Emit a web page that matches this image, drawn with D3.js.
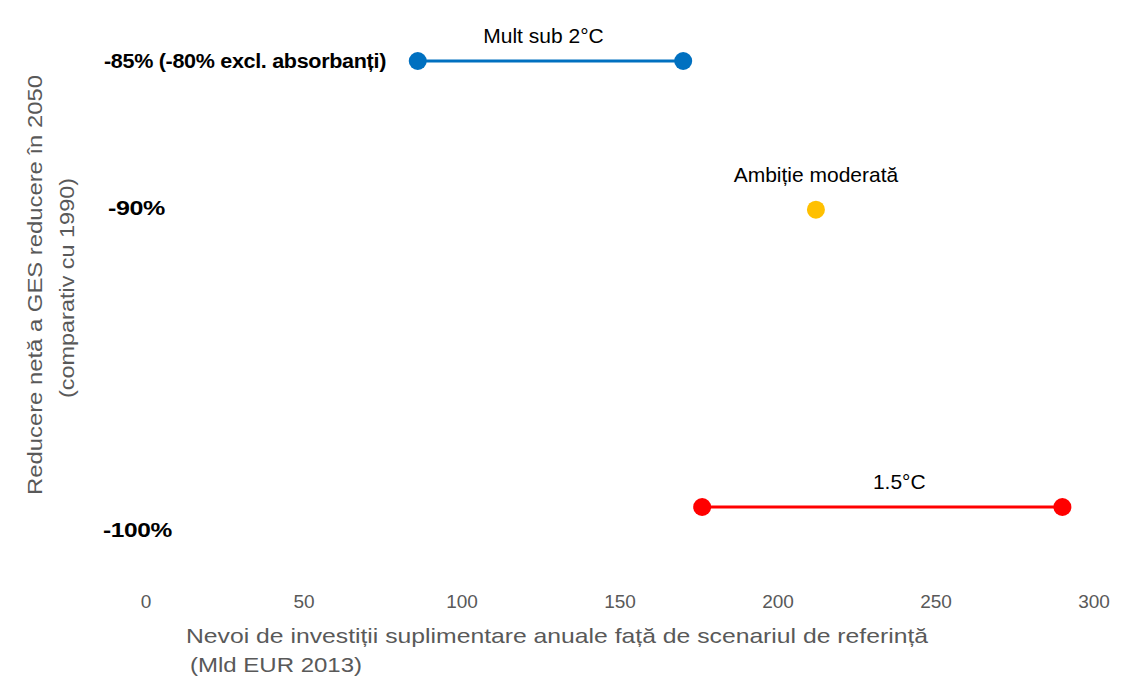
<!DOCTYPE html>
<html>
<head>
<meta charset="utf-8" />
<script src="https://d3js.org/d3.v7.min.js"></script>
<style>
    body { margin: 0; background: #fff; }
    svg { font-family: "Liberation Sans", Arial, sans-serif; }
    .tick-x { fill: #595959; font-size: 19px; }
    .tick-y { fill: #000; font-size: 20px; font-weight: bold; letter-spacing: -0.3px; }
    .axis-title { fill: #595959; font-size: 21px; }
    .series-label { fill: #000; font-size: 21px; }
</style>
</head>
<body>
<div id="chart"></div>
<script>
    // data
    var yCategories = [-85, -90, -100];
    var yTickLabels = ["-85% (-80% excl. absorbanți)", "-90%", "-100%"];
    var xTicks = [0, 50, 100, 150, 200, 250, 300];

    var seriesNames = ["Mult sub 2°C", "Ambiție moderată", "1.5°C"];
    var seriesReduction = [-85, -90, -100];
    var seriesMin = [86, 212, 176];
    var seriesMax = [170, 212, 290];
    var seriesColors = ["#0070c0", "#ffc000", "#ff0000"];

    var width = 1123, height = 693;

    var x = d3.scaleLinear().domain([0, 300]).range([146, 1094]);
    var y = d3.scaleLinear().domain([-85, -100]).range([61, 507]);

    var svg = d3.select('#chart').append('svg')
        .attr('width', width)
        .attr('height', height);

    // x tick labels (no axis line in the original)
    svg.append('g').selectAll('text')
        .data(xTicks)
        .enter().append('text')
        .attr('class', 'tick-x')
        .attr('x', function(d) { return x(d); })
        .attr('y', 608)
        .attr('text-anchor', 'middle')
        .text(function(d) { return d; });

    // y labels, left aligned; the -100% one sits a bit under its line
    var labelX = [104, 108, 103];
    var labelW = [282, 57, 69];
    svg.append('g').selectAll('text')
        .data(yCategories)
        .enter().append('text')
        .attr('class', 'tick-y')
        .attr('x', function(d, i) { return labelX[i]; })
        .attr('y', function(d, i) { return y(d) + (i === 2 ? 23 : (i === 1 ? -2 : 0)); })
        .attr('dy', '0.35em')
        .attr('textLength', function(d, i) { return labelW[i]; })
        .attr('lengthAdjust', 'spacingAndGlyphs')
        .text(function(d, i) { return yTickLabels[i]; });

    var series = seriesNames.map(function(name, i) {
        return { name: name, y: seriesReduction[i], lo: seriesMin[i], hi: seriesMax[i], color: seriesColors[i] };
    });

    var g = svg.append('g').selectAll('g')
        .data(series)
        .enter().append('g');

    g.filter(function(d) { return d.lo !== d.hi; })
        .append('line')
        .attr('x1', function(d) { return x(d.lo); })
        .attr('x2', function(d) { return x(d.hi); })
        .attr('y1', function(d) { return y(d.y); })
        .attr('y2', function(d) { return y(d.y); })
        .attr('stroke', function(d) { return d.color; })
        .attr('stroke-width', 3);

    g.selectAll('circle')
        .data(function(d) {
            var pts = d.lo === d.hi ? [d.lo] : [d.lo, d.hi];
            return pts.map(function(v) { return { v: v, y: d.y, color: d.color }; });
        })
        .enter().append('circle')
        .attr('cx', function(d) { return x(d.v); })
        .attr('cy', function(d) { return y(d.y); })
        .attr('r', 9)
        .attr('fill', function(d) { return d.color; });

    var labelShift = [-7, 0, 17];
    g.append('text')
        .attr('class', 'series-label')
        .attr('x', function(d, i) { return (x(d.lo) + x(d.hi)) / 2 + labelShift[i]; })
        .attr('y', function(d) { return y(d.y) + (d.lo === d.hi ? -28 : -18); })
        .attr('text-anchor', 'middle')
        .text(function(d) { return d.name; });

    // axis titles
    var xt = svg.append('text').attr('class', 'axis-title');
    xt.append('tspan').attr('x', 186).attr('y', 643)
        .attr('textLength', 742).attr('lengthAdjust', 'spacingAndGlyphs')
        .text('Nevoi de  investiții suplimentare anuale față de scenariul de referință');
    xt.append('tspan').attr('x', 190).attr('y', 672)
        .attr('textLength', 172).attr('lengthAdjust', 'spacingAndGlyphs')
        .text('(Mld EUR 2013)');

    var yt = svg.append('text').attr('class', 'axis-title')
        .attr('transform', 'translate(42,285) rotate(-90)')
        .attr('text-anchor', 'middle');
    yt.append('tspan').attr('x', 0).attr('y', 0)
        .attr('textLength', 420).attr('lengthAdjust', 'spacingAndGlyphs')
        .text('Reducere netă  a  GES reducere în 2050');
    yt.append('tspan').attr('x', -3).attr('y', 32)
        .attr('textLength', 220).attr('lengthAdjust', 'spacingAndGlyphs')
        .text('(comparativ cu 1990)');
</script>
</body>
</html>
